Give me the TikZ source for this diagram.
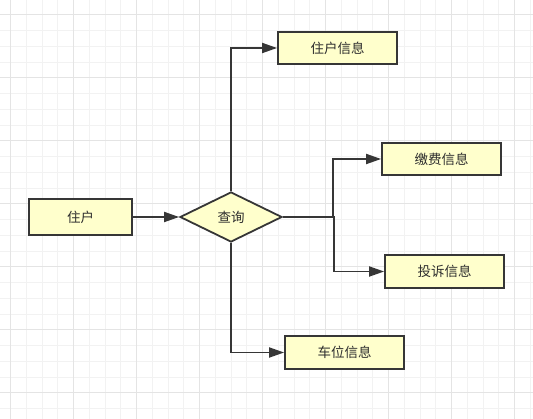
\documentclass[tikz,border=0pt]{standalone}
\usepackage{fontspec}
\setmainfont{Noto Sans CJK SC}
\usetikzlibrary{shapes.geometric,arrows.meta}
\definecolor{gridminor}{HTML}{F2F2F2}
\definecolor{gridmajor}{HTML}{E4E4E4}
\definecolor{boxfill}{HTML}{FFFFCC}
\definecolor{edge}{HTML}{363636}
\definecolor{txt}{HTML}{2E2E2E}
\tikzset{
  infobox/.style={draw=edge, line width=1.8pt, fill=boxfill, rectangle, inner sep=0pt,
    font=\fontsize{13.5}{16}\selectfont, text=txt},
  decision/.style={draw=edge, line width=1.8pt, fill=boxfill, diamond, inner sep=0pt,
    minimum width=102pt, minimum height=50pt, font=\fontsize{13.5}{16}\selectfont, text=txt},
  arr/.style={draw=edge, line width=1.8pt, -{Triangle[length=15pt,width=10pt]}},
  minorline/.style={draw=gridminor, line width=1pt},
  majorline/.style={draw=gridmajor, line width=1pt}
}
\begin{document}
\begin{tikzpicture}[x=1pt,y=-1pt]
\useasboundingbox (0,0) rectangle (533,419);
\fill[white] (0,0) rectangle (533,419);
% grid
\foreach \k in {0,...,33}{
  \pgfmathsetmacro\xx{10.7+15.75*\k}
  \draw[minorline] (\xx,0) -- (\xx,419);
}
\foreach \k in {0,...,26}{
  \pgfmathsetmacro\yy{15+15.75*\k}
  \draw[minorline] (0,\yy) -- (533,\yy);
}
\foreach \k in {0,4,...,32}{
  \pgfmathsetmacro\xx{10.7+15.75*\k}
  \draw[majorline] (\xx,0) -- (\xx,419);
}
\foreach \k in {0,4,...,24}{
  \pgfmathsetmacro\yy{15+15.75*\k}
  \draw[majorline] (0,\yy) -- (533,\yy);
}
% nodes
\node[infobox, minimum width=103pt, minimum height=36pt] (zh) at (80.5,217) {住户};
\node[decision] (cx) at (231,217) {查询};
\node[infobox, minimum width=119pt, minimum height=32pt] (zhxx) at (337.5,48) {住户信息};
\node[infobox, minimum width=119pt, minimum height=32pt] (jf) at (441.5,159) {缴费信息};
\node[infobox, minimum width=119pt, minimum height=33pt] (ts) at (444.5,271.5) {投诉信息};
\node[infobox, minimum width=119pt, minimum height=33pt] (cw) at (344.5,352.5) {车位信息};
\coordinate (j1) at (333,217);
\coordinate (j2) at (334,217);
% connectors
\draw[arr] (zh.east) -- (cx.west);
\draw[arr] (cx.north) |- (zhxx.west);
\draw[arr] (cx.east) -- (j1) |- (jf.west);
\draw[arr] (cx.east) -- (j2) |- (ts.west);
\draw[arr] (cx.south) |- (cw.west);
\end{tikzpicture}
\end{document}
